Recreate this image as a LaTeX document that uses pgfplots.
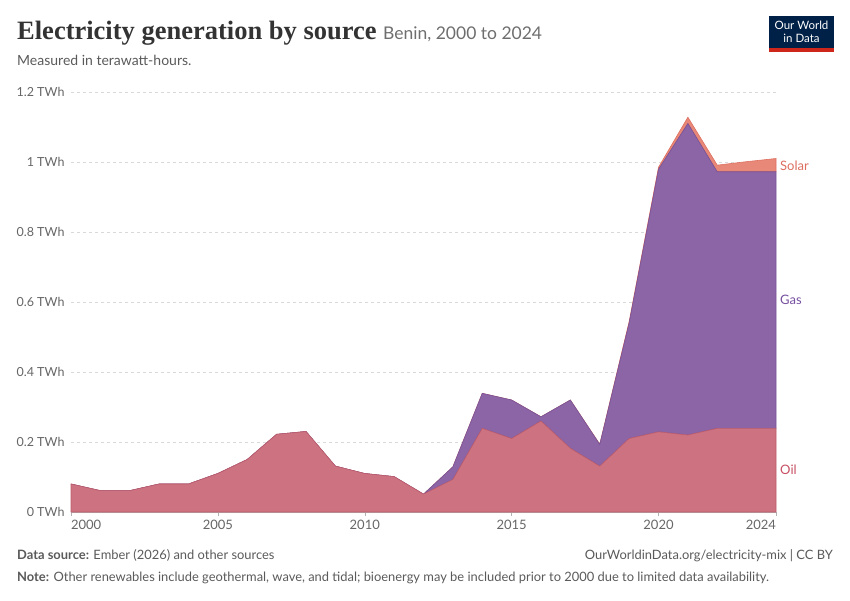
\documentclass[border=0pt]{standalone}
\usepackage{fontspec}
\setmainfont{Lato}
\newfontfamily\titlefont{Liberation Serif}
\usepackage{pgfplots}
\pgfplotsset{compat=1.18}
\definecolor{oilc}{RGB}{204,114,128}
\definecolor{oill}{RGB}{188,92,108}
\definecolor{gasc}{RGB}{140,101,166}
\definecolor{gasl}{RGB}{120,82,150}
\definecolor{solc}{RGB}{232,136,120}
\definecolor{soll}{RGB}{222,112,96}
\definecolor{txt}{RGB}{90,90,90}
\definecolor{tick}{RGB}{102,102,102}
\definecolor{owidblue}{RGB}{0,33,71}
\definecolor{owidred}{RGB}{206,38,27}
\begin{document}
\begin{tikzpicture}[x=1pt,y=1pt]
\path (0,0) rectangle (850,600);
% title
\node[anchor=base west,inner sep=0] at (17,560) {\titlefont\fontsize{26.5}{29}\selectfont\bfseries\color[RGB]{51,51,51}Electricity generation by source};
\node[anchor=base west,inner sep=0] at (383,560) {\fontsize{17.5}{20}\selectfont\color[RGB]{110,110,110}Benin, 2000 to 2024};
\node[anchor=base west,inner sep=0] at (17,534) {\fontsize{14}{16}\selectfont\color{txt}Measured in terawatt-hours.};
% logo
\fill[owidblue] (769,552) rectangle (834,584);
\fill[owidred] (769,548) rectangle (834,552);
\node[align=center,inner sep=0,font=\fontsize{11.5}{12.5}\selectfont\color{white}] at (801.5,568) {Our World\\in Data};
% footer
\node[anchor=base west,inner sep=0] at (17,41) {\fontsize{12.9}{14}\selectfont\color{txt}\textbf{Data source:} Ember (2026) and other sources};
\node[anchor=base east,inner sep=0] at (833,41) {\fontsize{12.9}{14}\selectfont\color{txt}OurWorldinData.org/electricity-mix | CC BY};
\node[anchor=base west,inner sep=0] at (17,19) {\fontsize{12.9}{14}\selectfont\color{txt}\textbf{Note:} Other renewables include geothermal, wave, and tidal; bioenergy may be included prior to 2000 due to limited data availability.};
\begin{axis}[
  at={(71pt,88pt)}, anchor=south west,
  scale only axis, width=705pt, height=420pt,
  xmin=2000, xmax=2024, ymin=0, ymax=1.2,
  stack plots=y,
  axis line style={draw=none},
  axis x line*=bottom,
  xtick={2000,2005,2010,2015,2020,2024},
  xticklabels={\makebox[0pt][l]{2000},2005,2010,2015,2020,\makebox[0pt][r]{2024}},
  x tick label style={font=\fontsize{13}{15}\selectfont\color{tick}, yshift=-1pt},
  ytick={0,0.2,0.4,0.6,0.8,1,1.2},
  yticklabels={0 TWh,0.2 TWh,0.4 TWh,0.6 TWh,0.8 TWh,1 TWh,1.2 TWh},
  y tick label style={font=\fontsize{12.5}{15}\selectfont\color{tick}, anchor=east, xshift=1pt},
  ytick style={draw=none},
  xtick style={draw=gray!60, thin},
  tick align=outside, major tick length=4pt,
  ymajorgrids, grid style={dashed, draw=gray!30, line width=0.8pt},
  clip=false,
]
\addplot[fill=oilc, draw=oill, line width=0.6pt] coordinates {
(2000,0.08)(2001,0.061)(2002,0.061)(2003,0.08)(2004,0.08)(2005,0.11)(2006,0.15)(2007,0.222)(2008,0.23)(2009,0.131)(2010,0.11)(2011,0.101)(2012,0.051)(2013,0.093)(2014,0.239)(2015,0.21)(2016,0.26)(2017,0.182)(2018,0.131)(2019,0.21)(2020,0.229)(2021,0.22)(2022,0.239)(2023,0.239)(2024,0.239)} \closedcycle;
\addplot[fill=gasc, draw=gasl, line width=0.6pt] coordinates {
(2000,0)(2001,0)(2002,0)(2003,0)(2004,0)(2005,0)(2006,0)(2007,0)(2008,0)(2009,0)(2010,0)(2011,0)(2012,0)(2013,0.036)(2014,0.1)(2015,0.11)(2016,0.012)(2017,0.138)(2018,0.062)(2019,0.33)(2020,0.75)(2021,0.89)(2022,0.733)(2023,0.733)(2024,0.733)} \closedcycle;
\addplot[fill=solc, draw=soll, line width=0.6pt] coordinates {
(2000,0)(2001,0)(2002,0)(2003,0)(2004,0)(2005,0)(2006,0)(2007,0)(2008,0)(2009,0)(2010,0)(2011,0)(2012,0)(2013,0)(2014,0)(2015,0)(2016,0)(2017,0)(2018,0.001)(2019,0.004)(2020,0.006)(2021,0.018)(2022,0.019)(2023,0.029)(2024,0.038)} \closedcycle;
\draw[gray!60, line width=0.8pt] (axis cs:2000,0) -- (axis cs:2024,0);
\end{axis}
\node[anchor=west,inner sep=0,font=\fontsize{13}{15}\selectfont,text={rgb,255:red,220;green,110;blue,95}] at (780,434) {Solar};
\node[anchor=west,inner sep=0,font=\fontsize{13}{15}\selectfont,text={rgb,255:red,118;green,80;blue,160}] at (780,300) {Gas};
\node[anchor=west,inner sep=0,font=\fontsize{13}{15}\selectfont,text={rgb,255:red,200;green,80;blue,100}] at (780,130) {Oil};
\end{tikzpicture}
\end{document}
